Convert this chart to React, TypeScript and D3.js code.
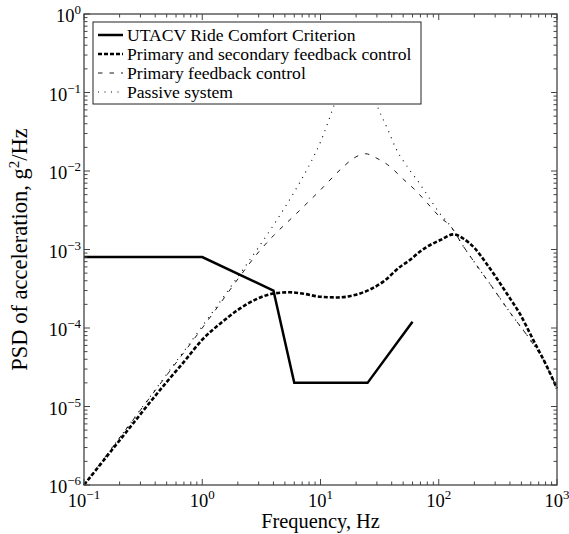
import React from "react";
import * as d3 from "d3";

// ---- data ----
const criterionFreq = [0.1, 1, 4, 6, 25, 60];
const criterionPsd = [8e-4, 8e-4, 3e-4, 2e-5, 2e-5, 1.2e-4];

const passiveFreq = [0.1, 0.2, 0.5, 1, 1.6, 2, 3, 4, 6, 8, 10, 13, 16, 20, 25, 30, 37, 44, 55, 69, 85, 100, 127, 160, 200, 280, 400, 600, 800, 1000];
const passivePsd = [1e-6, 4.0e-6, 2.57e-5, 1.05e-4, 2.8e-4, 4.5e-4, 1.07e-3, 2.04e-3, 5.4e-3, 0.0117, 0.0234, 0.068, 0.158, 0.28, 0.158, 0.069, 0.034, 0.0186, 0.011, 6.9e-3, 4.3e-3, 3.0e-3, 1.95e-3, 1.12e-3, 6.9e-4, 3.4e-4, 1.58e-4, 6.9e-5, 3.5e-5, 1.7e-5];

const primaryFreq = [0.1, 0.2, 0.5, 1, 1.4, 2, 3, 4, 6, 10, 15, 19, 24, 30, 37, 50, 63, 80, 102, 127, 160, 200, 280, 400, 600, 800, 1000];
const primaryPsd = [1e-6, 4.0e-6, 2.5e-5, 1.0e-4, 2.0e-4, 4.2e-4, 9.3e-4, 1.5e-3, 2.7e-3, 5.75e-3, 0.0107, 0.0145, 0.0166, 0.0145, 0.012, 7.9e-3, 5.75e-3, 3.9e-3, 2.6e-3, 1.95e-3, 1.12e-3, 6.9e-4, 3.4e-4, 1.58e-4, 6.9e-5, 3.5e-5, 1.7e-5];

const bothFreq = [0.1, 0.2, 0.5, 0.7, 1, 1.4, 2, 3, 4, 5.5, 7, 10, 14, 20, 27, 34, 47, 57, 70, 90, 103, 133, 161, 200, 250, 300, 376, 486, 631, 800, 1000];
const bothPsd = [1e-6, 3.7e-6, 2.05e-5, 3.7e-5, 7.1e-5, 1.12e-4, 1.7e-4, 2.4e-4, 2.75e-4, 2.85e-4, 2.75e-4, 2.5e-4, 2.45e-4, 2.66e-4, 3.16e-4, 3.9e-4, 6.0e-4, 7.35e-4, 9.5e-4, 1.2e-3, 1.32e-3, 1.56e-3, 1.38e-3, 1.05e-3, 6.8e-4, 4.6e-4, 2.75e-4, 1.51e-4, 7.0e-5, 3.5e-5, 1.7e-5];

const legendLabels = [
  "UTACV Ride Comfort Criterion",
  "Primary and secondary feedback control",
  "Primary feedback control",
  "Passive system",
];

const xTickExps = [-1, 0, 1, 2, 3];
const yTickExps = [-6, -5, -4, -3, -2, -1, 0];
const xTitle = "Frequency, Hz";

// ---- layout & styles ----
const W = 569;
const H = 534;
const L = 84, R = 557, T = 14, B = 485;
const FONT = "Liberation Serif";
const AXIS_COLOR = "#444";

const styles = [
  { width: 2.5, dash: null },
  { width: 2.6, dash: "4 2" },
  { width: 0.9, dash: "4.5 7" },
  { width: 1.1, dash: "1 5.5" },
];

const fmtExp = (e: number) => (e < 0 ? "\u2212" + Math.abs(e) : String(e));

export default function App() {
  const x = d3.scaleLog().domain([0.1, 1000]).range([L, R]);
  const y = d3.scaleLog().domain([1e-6, 1]).range([B, T]);

  const smooth = d3
    .line<[number, number]>()
    .x((d) => x(d[0]))
    .y((d) => y(d[1]))
    .curve(d3.curveMonotoneX);
  const straight = d3
    .line<[number, number]>()
    .x((d) => x(d[0]))
    .y((d) => y(d[1]));

  const zip = (a: number[], b: number[]) => a.map((v, i) => [v, b[i]] as [number, number]);

  const series = [
    { path: straight(zip(criterionFreq, criterionPsd)), s: styles[0] },
    { path: smooth(zip(bothFreq, bothPsd)), s: styles[1] },
    { path: smooth(zip(primaryFreq, primaryPsd)), s: styles[2] },
    { path: smooth(zip(passiveFreq, passivePsd)), s: styles[3] },
  ];

  const xMajor = xTickExps.map((e) => Math.pow(10, e));
  const xMinor: number[] = [];
  for (let e = -1; e < 3; e++) for (let k = 2; k <= 9; k++) xMinor.push(k * Math.pow(10, e));
  const yMajor = yTickExps.map((e) => Math.pow(10, e));
  const yMinor: number[] = [];
  for (let e = -6; e < 0; e++) for (let k = 2; k <= 9; k++) yMinor.push(k * Math.pow(10, e));

  const MAJ = 6, MIN = 3.5;

  const legX = 93, legY = 22, legW = 328, legH = 82;
  const rowY = [35, 54, 73, 92];
  const tf = { fontFamily: FONT };

  return (
    <svg
      width={W}
      height={H}
      style={{ position: "absolute", left: 0, top: 0, background: "#fff", fontFamily: FONT }}
    >
      <rect x={0} y={0} width={W} height={H} fill="#fff" />

      {[3, 2, 1, 0].map((i) => (
        <path
          key={i}
          d={series[i].path || ""}
          fill="none"
          stroke="#000"
          strokeWidth={series[i].s.width}
          strokeDasharray={series[i].s.dash || undefined}
          strokeLinejoin="miter"
        />
      ))}

      <rect x={L} y={T} width={R - L} height={B - T} fill="none" stroke={AXIS_COLOR} strokeWidth={1.3} />

      <g stroke={AXIS_COLOR} strokeWidth={1}>
        {xMajor.map((v) => (
          <g key={"xm" + v}>
            <line x1={x(v)} x2={x(v)} y1={B} y2={B - MAJ} />
            <line x1={x(v)} x2={x(v)} y1={T} y2={T + MAJ} />
          </g>
        ))}
        {xMinor.map((v) => (
          <g key={"xn" + v}>
            <line x1={x(v)} x2={x(v)} y1={B} y2={B - MIN} />
            <line x1={x(v)} x2={x(v)} y1={T} y2={T + MIN} />
          </g>
        ))}
        {yMajor.map((v) => (
          <g key={"ym" + v}>
            <line x1={L} x2={L + MAJ} y1={y(v)} y2={y(v)} />
            <line x1={R} x2={R - MAJ} y1={y(v)} y2={y(v)} />
          </g>
        ))}
        {yMinor.map((v) => (
          <g key={"yn" + v}>
            <line x1={L} x2={L + MIN} y1={y(v)} y2={y(v)} />
            <line x1={R} x2={R - MIN} y1={y(v)} y2={y(v)} />
          </g>
        ))}
      </g>

      <g fill="#000">
        {xTickExps.map((e) => (
          <text key={"xl" + e} x={x(Math.pow(10, e))} y={B + 22} textAnchor="middle" fontSize={18.5} style={tf}>
            10
            <tspan dy={-8} fontSize={13}>
              {fmtExp(e)}
            </tspan>
          </text>
        ))}
        {yTickExps.map((e) => (
          <text key={"yl" + e} x={81} y={y(Math.pow(10, e)) + 8} textAnchor="end" fontSize={18.5} style={tf}>
            10
            <tspan dy={-8} fontSize={13}>
              {fmtExp(e)}
            </tspan>
          </text>
        ))}
      </g>

      <text x={(L + R) / 2} y={528} textAnchor="middle" fontSize={20.4} fill="#000" style={tf}>
        {xTitle}
      </text>
      <text
        transform={`translate(27, ${(T + B) / 2}) rotate(-90)`}
        textAnchor="middle"
        fontSize={22.5}
        fill="#000"
        style={tf}
      >
        PSD of acceleration, g
        <tspan dy={-8} fontSize={15}>
          2
        </tspan>
        <tspan dy={8}>/Hz</tspan>
      </text>

      <rect x={legX} y={legY} width={legW} height={legH} fill="#fff" stroke="#222" strokeWidth={1} />
      {legendLabels.map((lab, i) => (
        <g key={lab}>
          <line
            x1={98}
            x2={123}
            y1={rowY[i]}
            y2={rowY[i]}
            stroke="#000"
            strokeWidth={styles[i].width}
            strokeDasharray={styles[i].dash || undefined}
          />
          <text x={127} y={rowY[i] + 6} fontSize={17.6} fill="#000" style={tf}>
            {lab}
          </text>
        </g>
      ))}
    </svg>
  );
}
